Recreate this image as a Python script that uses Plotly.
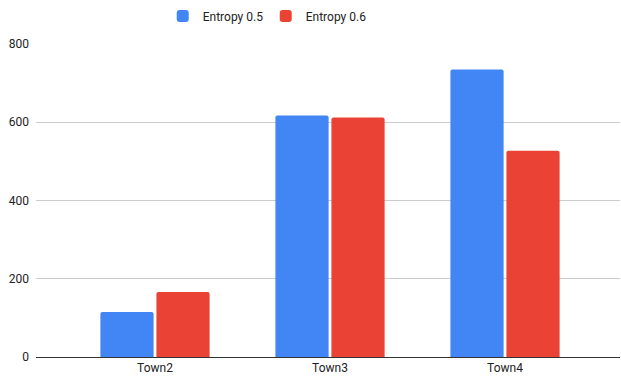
import plotly.graph_objects as go

categories = ["Town2", "Town3", "Town4"]
entropy_05 = [115, 617, 735]
entropy_06 = [166, 612, 527]
series_names = ["Entropy 0.5", "Entropy 0.6"]
y_ticks = [0, 200, 400, 600, 800]

fig = go.Figure()
fig.add_trace(go.Bar(x=categories, y=entropy_05, name=series_names[0],
                     marker=dict(color="#4285F4", line=dict(width=0))))
fig.add_trace(go.Bar(x=categories, y=entropy_06, name=series_names[1],
                     marker=dict(color="#EA4335", line=dict(width=0))))

fig.update_layout(
    width=621, height=378,
    margin=dict(l=36, r=1, t=44, b=21),
    paper_bgcolor="white", plot_bgcolor="white",
    barmode="group", bargap=0.36, bargroupgap=0.05,
    barcornerradius=2,
    font=dict(family="Roboto, sans-serif", size=12, color="#222222"),
    legend=dict(orientation="h", x=0.217, xanchor="left", y=1 - 16 / 378, yanchor="middle",
                font=dict(size=12, color="#222222"),
                itemwidth=30, entrywidth=58, traceorder="normal"),
    showlegend=True,
    xaxis=dict(range=[-0.68, 2.657], showgrid=False, showline=True,
               linecolor="#333333", linewidth=1, ticks="", tickfont=dict(size=12, color="#222222")),
    yaxis=dict(range=[0, 800], tickvals=y_ticks, showgrid=True, gridcolor="#cccccc",
               gridwidth=1, zeroline=False, showline=False, ticks="",
               ticklabelstandoff=6, tickfont=dict(size=12, color="#222222")),
)
fig.update_layout(legend=dict(yref="container"))

fig.write_html("out.html")
